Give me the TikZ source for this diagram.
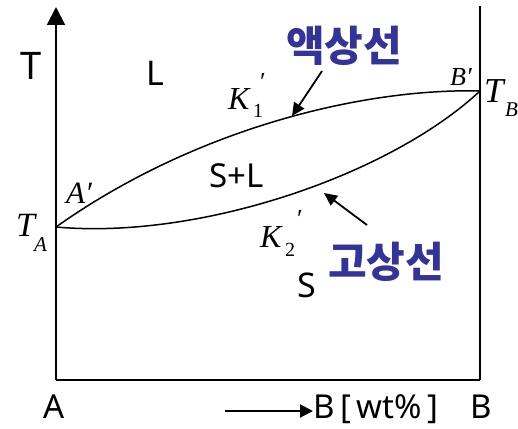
\documentclass[tikz,border=0pt]{standalone}
\usepackage{fontspec}
\setmainfont{Liberation Serif}
\newfontfamily\sansf{Noto Sans}
\newfontfamily\kor{Noto Sans CJK KR}
\usetikzlibrary{arrows.meta}
\definecolor{korblue}{RGB}{51,51,153}
\begin{document}
\begin{tikzpicture}[x=1pt,y=-1pt,
  axisline/.style={line width=2pt},
  phasecurve/.style={line width=1.5pt},
  sanslbl/.style={font=\sansf\fontsize{#1}{#1}\selectfont, inner sep=0pt},
  sanslbl/.default=33,
  itlbl/.style={font=\itshape\fontsize{#1}{#1}\selectfont, inner sep=0pt},
  rmlbl/.style={font=\fontsize{#1}{#1}\selectfont, inner sep=0pt},
  korlbl/.style={font=\kor\bfseries\fontsize{42}{42}\selectfont, text=korblue, inner sep=0pt},
  pointer/.style={line width=1.8pt, -{Triangle[length=13pt,width=12pt]}}]
\useasboundingbox (0,0) rectangle (518,428);

% frame
\coordinate (O) at (56,380);
\coordinate (Ytop) at (56,7);
\coordinate (BR) at (480,380);
\coordinate (RT) at (480,6);
\draw[axisline] (BR) -- (O);
\draw[axisline, -{Triangle[length=18pt,width=18pt]}] (O) -- (Ytop);
\draw[axisline] (BR) -- (RT);

% end points
\coordinate (TA) at (56,227);
\coordinate (Bp) at (480,91);

% liquidus
\draw[phasecurve] (TA) .. controls (200,125) and (370,88) .. (Bp);
% solidus
\draw[phasecurve] (TA) .. controls (200,240) and (390,175) .. (Bp);

% pointers
\coordinate (liqS) at (322,71);
\coordinate (liqE) at (292,116);
\coordinate (solS) at (367,225);
\coordinate (solE) at (324,193);
\draw[pointer] (liqS) -- (liqE);
\draw[pointer] (solS) -- (solE);

% korean labels
\node[korlbl] (liq) at (344,46) {액상선};
\node[korlbl] (sol) at (386,262) {고상선};

% sans labels
\node[sanslbl=38, anchor=base west] (T) at (20,79) {T};
\node[sanslbl=34, anchor=base west] (L) at (146,85) {L};
\node[sanslbl=33, anchor=base west] (SL) at (209,187) {S+L};
\node[sanslbl=34, anchor=base west] (S) at (297,297) {S};
\node[sanslbl=33, anchor=base west] (Alab) at (43,418) {A};
\node[sanslbl=33, anchor=base west] (Blab) at (470,418) {B};
\node[sanslbl=33, anchor=base west] (Bwt) at (313,418) {B\,[\,wt\%\,]};
\coordinate (arrS) at (225,411);
\draw[line width=2pt, -{Triangle[length=13pt,width=13pt]}] (arrS) -- (Bwt.west |- arrS);

% italic labels
\node[itlbl=34, anchor=base west] (TAT) at (16,236) {T};
\node[itlbl=21, anchor=base west] (TAs) at (34,251) {A};
\node[itlbl=31, anchor=base west] (Ap) at (66,203) {A′};
\node[itlbl=26, anchor=base west] (Bpl) at (450,85) {B′};
\node[itlbl=35, anchor=base west] (TBT) at (484,102) {T};
\node[itlbl=21, anchor=base west] (TBs) at (505,116) {B};
\node[itlbl=32, anchor=base west] (K1) at (228,109) {K};
\node[rmlbl=20, anchor=base west] (K1s) at (253,117) {1};
\node[rmlbl=26, anchor=center] (K1p) at (263,82) {′};
\node[itlbl=32, anchor=base west] (K2) at (260,247) {K};
\node[rmlbl=20, anchor=base west] (K2s) at (285,256) {2};
\node[rmlbl=26, anchor=center] (K2p) at (300,219) {′};
\end{tikzpicture}
\end{document}
